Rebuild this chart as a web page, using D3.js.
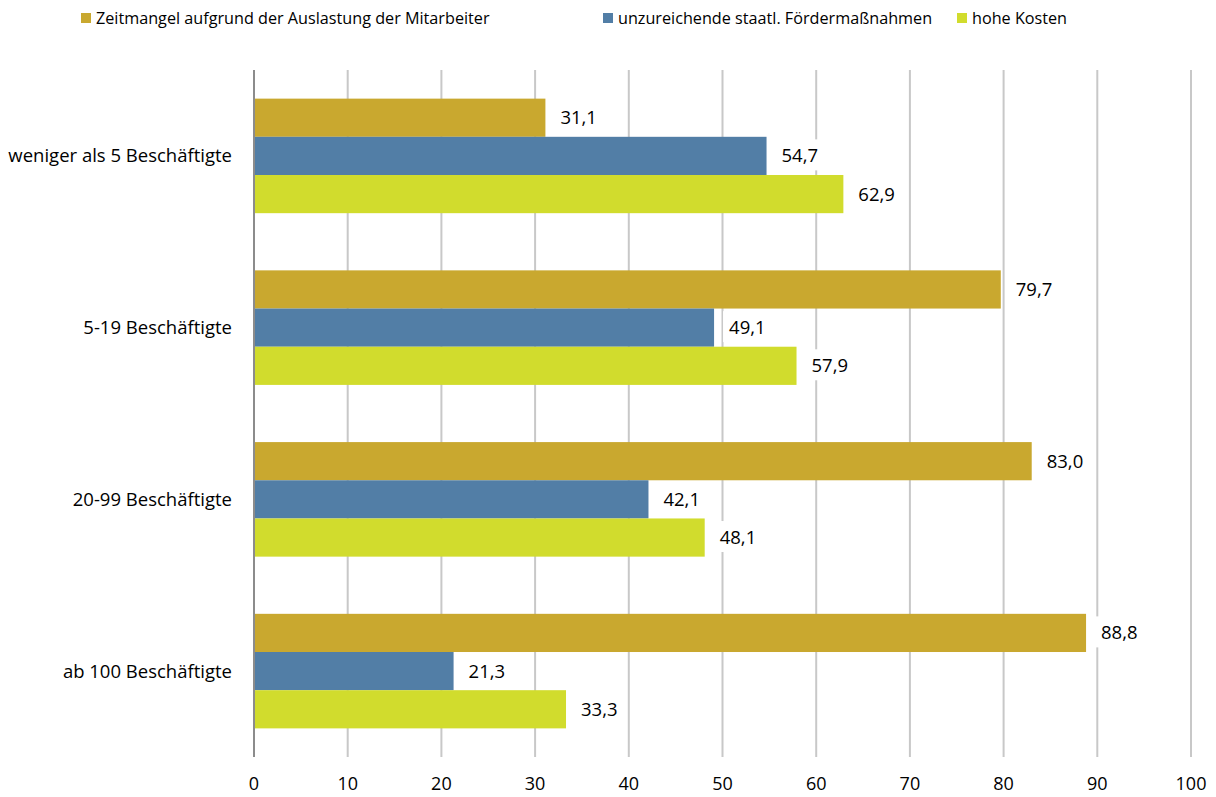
<!DOCTYPE html>
<html><head><meta charset="utf-8">
<script src="https://cdn.jsdelivr.net/npm/d3@7"></script>
<style>body{margin:0;background:#fff}svg{font-family:"Open Sans",Lato,sans-serif}</style>
</head><body><svg id="c" width="1216" height="797"></svg>
<script>
const categories = ["weniger als 5 Beschäftigte","5-19 Beschäftigte","20-99 Beschäftigte","ab 100 Beschäftigte"];
const seriesNames = ["Zeitmangel aufgrund der Auslastung der Mitarbeiter","unzureichende staatl. Fördermaßnahmen","hohe Kosten"];
const zeitmangel = [31.1,79.7,83.0,88.8];
const foerder = [54.7,49.1,42.1,21.3];
const kosten = [62.9,57.9,48.1,33.3];
const xTicks = [0,10,20,30,40,50,60,70,80,90,100];
const colors = ["#C9A82F","#527EA6","#D1DC2D"];
const series = [zeitmangel, foerder, kosten];

const svg = d3.select("#c");
const x = d3.scaleLinear().domain([0,100]).range([254,1191]);
const y0 = d3.scaleBand().domain(categories).range([70,757]).paddingInner(0.333).paddingOuter(0.1667);
const y1 = d3.scaleBand().domain(d3.range(3)).range([0,y0.bandwidth()]);

svg.append("g").selectAll("line").data(xTicks).join("line")
  .attr("x1",d=>x(d)).attr("x2",d=>x(d)).attr("y1",70).attr("y2",757)
  .attr("stroke",d=>d===0?"#8c8c8c":"#c8c8c8").attr("stroke-width",2);

const g = svg.append("g");
categories.forEach((c,i)=>{
  series.forEach((s,j)=>{
    g.append("rect").attr("x",x(0)+1).attr("y",y0(c)+y1(j))
     .attr("width",x(s[i])-x(0)-1).attr("height",y1.bandwidth())
     .attr("fill",colors[j]);
  });
});
const fmt = v => d3.format(".1f")(v).replace(".",",");
categories.forEach((c,i)=>{
  series.forEach((s,j)=>{
    const cy = y0(c)+y1(j)+y1.bandwidth()/2;
    const t = svg.append("text").attr("x",x(s[i])+15).attr("y",cy).attr("dy","0.35em")
      .attr("font-size",18.5).attr("fill","#000").text(fmt(s[i]));
    const bb = t.node().getBBox();
    svg.insert("rect", ()=>t.node()).attr("x",bb.x-6).attr("y",bb.y-3).attr("width",bb.width+12).attr("height",bb.height+6).attr("fill","#fff");
  });
  svg.append("text").attr("x",232).attr("y",y0(c)+y0.bandwidth()/2).attr("dy","0.35em")
    .attr("text-anchor","end").attr("font-size",18.5).text(c);
});
svg.append("g").selectAll("text").data(xTicks).join("text")
  .attr("x",d=>x(d)).attr("y",784).attr("dy","0.35em").attr("text-anchor","middle")
  .attr("font-size",18).text(d=>d);

const legX = [81,603,957];
seriesNames.forEach((n,j)=>{
  svg.append("rect").attr("x",legX[j]).attr("y",13).attr("width",10).attr("height",10).attr("fill",colors[j]);
  svg.append("text").attr("x",legX[j]+15).attr("y",18).attr("dy","0.35em").attr("font-size",16.2).text(n);
});
</script></body></html>
